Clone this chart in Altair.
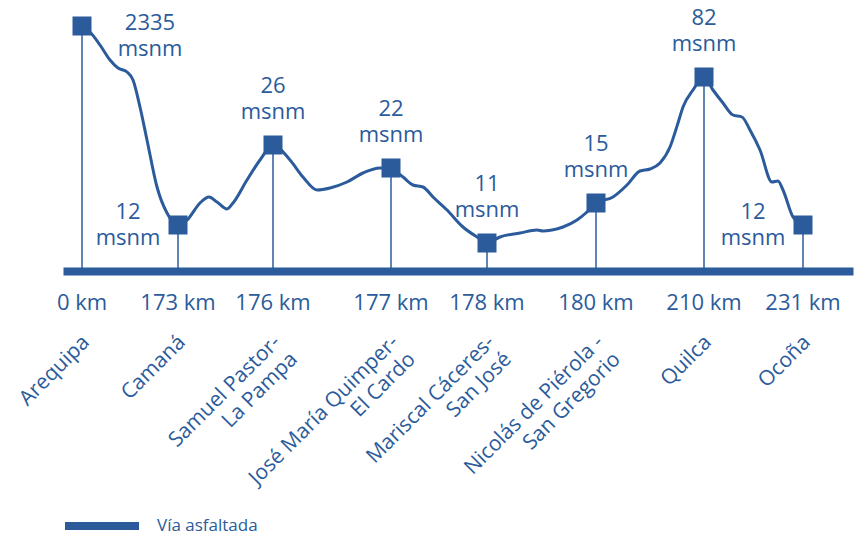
import altair as alt
import pandas as pd

BLUE = "#2b5b9b"
FONT = "Open Sans"

# Stations (schematic position along the road, schematic height above baseline)
stations = ["Arequipa", "Camaná", "Samuel Pastor-\nLa Pampa", "José María Quimper-\nEl Cardo",
            "Mariscal Cáceres-\nSan José", "Nicolás de Piérola -\nSan Gregorio", "Quilca", "Ocoña"]
km_labels = ["0 km", "173 km", "176 km", "177 km", "178 km", "180 km", "210 km", "231 km"]
elev_labels = ["2335\nmsnm", "12\nmsnm", "26\nmsnm", "22\nmsnm", "11\nmsnm", "15\nmsnm", "82\nmsnm", "12\nmsnm"]
label_side = ["right", "left", "above", "above", "above", "above", "above", "left"]
station_pos = [19, 115, 210, 328, 424, 533, 641, 740]
station_h = [245, 46, 126, 103, 28, 68, 194, 46]

# Profile curve (schematic)
profile_pos = [19, 27, 37, 47, 55, 64, 70, 77, 84, 94, 104, 115, 124, 137, 146, 154, 164, 170,
               184, 197, 210, 227, 240, 254, 267, 284, 300, 317, 328, 340, 350, 360, 370, 384,
               400, 414, 424, 437, 457, 474, 480, 489, 500, 514, 524, 533, 550, 564, 577, 587,
               597, 607, 615, 620, 630, 641, 650, 660, 670, 679, 687, 697, 709, 715, 720, 730, 740]
profile_h = [245, 239, 226, 211, 203, 199, 191, 164, 131, 84, 58, 46, 51, 68, 74, 69, 62, 68,
             91, 111, 126, 111, 94, 81, 83, 89, 98, 103, 102, 94, 86, 84, 74, 61, 44, 34, 28, 34,
             38, 41, 40, 41, 44, 51, 59, 68, 74, 86, 100, 102, 108, 124, 148, 164, 181, 194,
             181, 168, 156, 154, 141, 121, 89, 90, 81, 54, 46]

road = ["Vía asfaltada"] * len(profile_pos)

profile = pd.DataFrame({"pos": profile_pos, "h": profile_h, "road": road})
st = pd.DataFrame({"pos": station_pos, "h": station_h, "name": stations, "km": km_labels,
                   "elev": elev_labels, "side": label_side})

xs = alt.Scale(domain=[0, 790], nice=False, zero=False)
ys = alt.Scale(domain=[0, 263], nice=False, zero=False)

x_axis = alt.Axis(domain=True, domainColor=BLUE, domainWidth=8, ticks=False, labels=False,
                  grid=False, title=None)

base = alt.Chart(st)

rules = base.mark_rule(color=BLUE, strokeWidth=1.5).encode(
    x=alt.X("pos:Q", scale=xs, axis=x_axis),
    y=alt.Y("h:Q", scale=ys, axis=None),
    y2=alt.datum(0),
)

line = alt.Chart(profile).mark_line(strokeWidth=3, interpolate="monotone").encode(
    x=alt.X("pos:Q", scale=xs),
    y=alt.Y("h:Q", scale=ys),
    color=alt.Color("road:N", scale=alt.Scale(range=[BLUE]),
                    legend=alt.Legend(title=None, orient="none", legendX=-2, legendY=477,
                                      symbolType="stroke", symbolSize=5476, symbolStrokeWidth=8,
                                      labelFont=FONT, labelFontSize=17, labelColor=BLUE,
                                      labelOffset=14, padding=0)),
)

squares = base.mark_square(size=361, color=BLUE, opacity=1).encode(
    x=alt.X("pos:Q", scale=xs),
    y=alt.Y("h:Q", scale=ys),
)

txt = dict(font=FONT, fontSize=22, color=BLUE, lineBreak="\n", lineHeight=26, baseline="middle")

elev_above = base.mark_text(align="center", dy=-59, **txt).encode(
    x="pos:Q", y="h:Q", text="elev:N").transform_filter(alt.datum.side == "above")
elev_right = base.mark_text(align="center", dx=68, dy=-3, **txt).encode(
    x="pos:Q", y="h:Q", text="elev:N").transform_filter(alt.datum.side == "right")
elev_left = base.mark_text(align="center", dx=-50, dy=-13, **txt).encode(
    x="pos:Q", y="h:Q", text="elev:N").transform_filter(alt.datum.side == "left")

km = base.mark_text(font=FONT, fontSize=22, color=BLUE, align="center", baseline="middle").encode(
    x="pos:Q", y=alt.value(295), text="km:N")

names = base.mark_text(font=FONT, fontSize=21, color=BLUE, align="right", baseline="top",
                       angle=315, lineBreak="\n", lineHeight=24, dx=-5).encode(
    x="pos:Q", y=alt.value(320), text="name:N")

chart = alt.layer(rules, line, squares, elev_above, elev_right, elev_left, km, names).properties(
    width=790, height=263,
    background="white",
    autosize=alt.AutoSizeParams(type="none"),
    padding={"left": 55, "top": 0, "right": 6, "bottom": 262},
).configure_view(stroke=None)

chart.save("out.html", embed_options={"renderer": "svg", "actions": False})
